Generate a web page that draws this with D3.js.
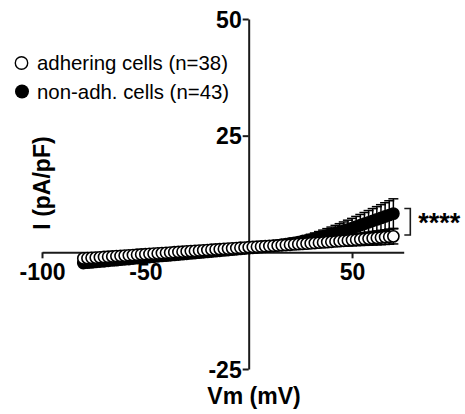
<!DOCTYPE html>
<html>
<head>
<meta charset="utf-8">
<script src="https://cdn.jsdelivr.net/npm/d3@7"></script>
<style>
  html, body { margin: 0; padding: 0; background: #fff; }
  svg { display: block; font-family: "Liberation Sans", Arial, sans-serif; }
</style>
</head>
<body>
<svg id="chart" width="465" height="414"></svg>
<script>
// ---- data ----
const voltages = [-80,-78,-76,-74,-72,-70,-68,-66,-64,-62,-60,-58,-56,-54,-52,-50,-48,-46,-44,-42,-40,-38,-36,-34,-32,-30,-28,-26,-24,-22,-20,-18,-16,-14,-12,-10,-8,-6,-4,-2,0,2,4,6,8,10,12,14,16,18,20,22,24,26,28,30,32,34,36,38,40,42,44,46,48,50,52,54,56,58,60,62,64,66,68,70];

const adheringMean = [-1.30,-1.25,-1.18,-1.13,-1.06,-1.00,-0.95,-0.88,-0.82,-0.77,-0.70,-0.64,-0.59,-0.52,-0.46,-0.41,-0.34,-0.28,-0.23,-0.16,-0.10,-0.05,0.02,0.08,0.13,0.20,0.26,0.31,0.38,0.44,0.49,0.56,0.62,0.67,0.74,0.80,0.85,0.92,0.98,1.03,1.10,1.15,1.20,1.25,1.30,1.36,1.41,1.46,1.52,1.57,1.63,1.69,1.75,1.81,1.87,1.93,1.99,2.06,2.12,2.19,2.26,2.33,2.40,2.47,2.55,2.62,2.70,2.78,2.86,2.94,3.02,3.10,3.18,3.26,3.34,3.42];
const adheringSem = [0.40,0.40,0.39,0.39,0.38,0.38,0.37,0.37,0.36,0.36,0.35,0.35,0.34,0.34,0.33,0.33,0.32,0.32,0.31,0.31,0.30,0.30,0.30,0.30,0.30,0.30,0.30,0.30,0.30,0.30,0.30,0.30,0.30,0.30,0.30,0.30,0.30,0.30,0.30,0.30,0.30,0.32,0.34,0.36,0.38,0.40,0.43,0.46,0.49,0.52,0.55,0.59,0.63,0.67,0.71,0.75,0.79,0.83,0.87,0.92,0.96,1.01,1.06,1.11,1.16,1.21,1.26,1.31,1.36,1.41,1.46,1.50,1.54,1.57,1.60,1.62];

const nonAdhMean = [-2.30,-2.22,-2.15,-2.06,-1.98,-1.91,-1.82,-1.74,-1.67,-1.58,-1.50,-1.43,-1.34,-1.26,-1.19,-1.10,-1.02,-0.95,-0.86,-0.78,-0.71,-0.62,-0.54,-0.47,-0.38,-0.30,-0.23,-0.14,-0.06,0.01,0.10,0.18,0.25,0.34,0.42,0.49,0.58,0.66,0.73,0.82,0.90,0.97,1.04,1.12,1.20,1.29,1.39,1.50,1.62,1.75,1.89,2.04,2.20,2.37,2.55,2.74,2.94,3.15,3.37,3.60,3.84,4.10,4.37,4.64,4.92,5.20,5.51,5.82,6.13,6.44,6.75,7.06,7.37,7.68,7.99,8.30];
const nonAdhSem = [0.50,0.50,0.49,0.49,0.48,0.48,0.47,0.47,0.46,0.46,0.45,0.45,0.44,0.44,0.43,0.43,0.42,0.42,0.41,0.41,0.40,0.40,0.40,0.40,0.40,0.40,0.40,0.40,0.40,0.40,0.40,0.40,0.40,0.40,0.40,0.40,0.40,0.40,0.40,0.40,0.40,0.42,0.44,0.47,0.50,0.53,0.57,0.61,0.66,0.71,0.77,0.83,0.90,0.97,1.05,1.13,1.21,1.30,1.39,1.48,1.57,1.67,1.77,1.87,1.97,2.07,2.18,2.29,2.40,2.51,2.62,2.73,2.84,2.95,3.06,3.17];

const xTicks = [-100, -50, 50];
const yTicks = [-25, 25, 50];
const legendLabels = ["adhering cells (n=38)", "non-adh. cells (n=43)"];
const xTitle = "Vm (mV)";
const yTitle = "I (pA/pF)";
const sigLabel = "****";

// ---- drawing ----
const svg = d3.select("#chart");
const x = d3.scaleLinear().domain([-100, 75]).range([42, 403.7]);
const y = d3.scaleLinear().domain([-25, 50]).range([369, 19]);
const axisColor = "#1a1a1a";
const R = 5.6, cap = 5;

function drawSeries(mean, sem, filled) {
  const g = svg.append("g");
  const data = voltages.map((v, i) => ({ v, m: mean[i], s: sem[i] }));
  const eb = g.append("g").attr("stroke", "#000").attr("stroke-width", 1.5);
  data.forEach(d => {
    const cx = x(d.v);
    eb.append("line").attr("x1", cx).attr("x2", cx).attr("y1", y(d.m + d.s)).attr("y2", y(d.m - d.s));
    eb.append("line").attr("x1", cx - cap).attr("x2", cx + cap).attr("y1", y(d.m + d.s)).attr("y2", y(d.m + d.s));
    eb.append("line").attr("x1", cx - cap).attr("x2", cx + cap).attr("y1", y(d.m - d.s)).attr("y2", y(d.m - d.s));
  });
  g.append("g").selectAll("circle").data(data).join("circle")
    .attr("cx", d => x(d.v)).attr("cy", d => y(d.m)).attr("r", R)
    .attr("fill", filled ? "#000" : "#fff")
    .attr("stroke", "#000").attr("stroke-width", 1.6);
}

// axes
const xAxis = svg.append("g").attr("transform", `translate(0,${y(0)})`)
  .call(d3.axisBottom(x).tickValues(xTicks).tickSize(6).tickSizeOuter(0).tickPadding(4).tickFormat(d => String(d)));
const yAxis = svg.append("g").attr("transform", `translate(${x(0)},0)`)
  .call(d3.axisLeft(y).tickValues(yTicks).tickSize(6).tickSizeOuter(0).tickPadding(1).tickFormat(d => String(d)));
[xAxis, yAxis].forEach(a => {
  a.select(".domain").attr("stroke", axisColor).attr("stroke-width", 2);
  a.selectAll(".tick line").attr("stroke", axisColor).attr("stroke-width", 2);
  a.selectAll(".tick text").attr("fill", "#000").attr("font-size", 23).attr("font-weight", "bold")
    .attr("font-family", "'Liberation Sans', Arial, sans-serif");
});
xAxis.selectAll(".tick text").attr("dy", "0.78em");
yAxis.selectAll(".tick text").attr("dy", "0.36em");

drawSeries(nonAdhMean, nonAdhSem, true);
drawSeries(adheringMean, adheringSem, false);

// axis titles
svg.append("text").attr("x", 254).attr("y", 404).attr("text-anchor", "middle")
  .attr("font-size", 23).attr("font-weight", "bold").text(xTitle);
svg.append("text").attr("transform", "translate(50,183) rotate(-90)").attr("text-anchor", "middle")
  .attr("font-size", 23).attr("font-weight", "bold").text(yTitle);

// legend
svg.append("circle").attr("cx", 21.5).attr("cy", 63).attr("r", 6.2).attr("fill", "#fff").attr("stroke", "#000").attr("stroke-width", 1.4);
svg.append("circle").attr("cx", 22).attr("cy", 91.5).attr("r", 7).attr("fill", "#000");
svg.append("text").attr("x", 37).attr("y", 70).attr("font-size", 20.4).text(legendLabels[0]);
svg.append("text").attr("x", 37).attr("y", 99).attr("font-size", 20.4).text(legendLabels[1]);

// significance bracket
const bx = x(78.2);
svg.append("path").attr("d", `M${bx - 6},${y(9.4)}H${bx}V${y(3.7)}H${bx - 6}`)
  .attr("fill", "none").attr("stroke", axisColor).attr("stroke-width", 1.6);
svg.append("text").attr("x", bx + 8).attr("y", 232).attr("font-size", 27).attr("font-weight", "bold").text(sigLabel);
</script>
</body>
</html>
